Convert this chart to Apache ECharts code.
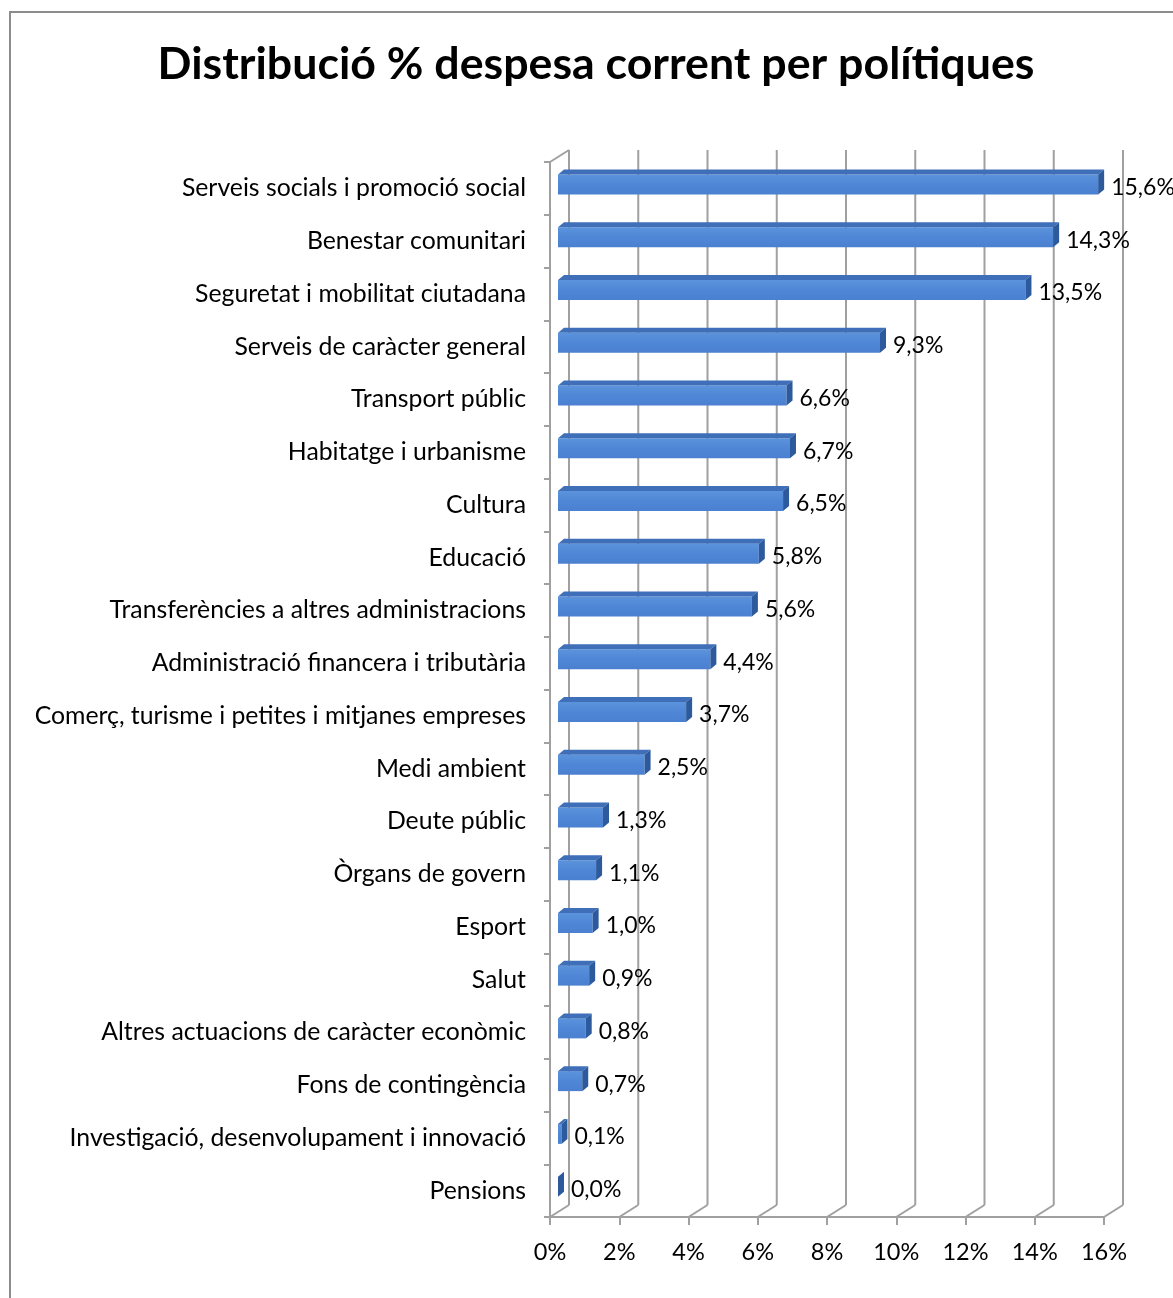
<!DOCTYPE html>
<html>
<head>
<meta charset="utf-8">
<script src="https://cdn.jsdelivr.net/npm/echarts@6/dist/echarts.min.js"></script>
<style>
  html, body { margin: 0; padding: 0; background: #fff; overflow: hidden; }
  #chart { position: absolute; left: 0; top: 0; width: 1173px; height: 1298px; }
  #frame { position: absolute; left: 9px; top: 11px; width: 1260px; height: 1360px;
           border: 2px solid #8c8c8c; pointer-events: none; box-sizing: border-box; }
</style>
</head>
<body>
<div id="chart"></div>
<div id="frame"></div>
<script>
// Current spending share by policy area (%)
const categories = [
  'Serveis socials i promoció social',
  'Benestar comunitari',
  'Seguretat i mobilitat ciutadana',
  'Serveis de caràcter general',
  'Transport públic',
  'Habitatge i urbanisme',
  'Cultura',
  'Educació',
  'Transferències a altres administracions',
  'Administració financera i tributària',
  'Comerç, turisme i petites i mitjanes empreses',
  'Medi ambient',
  'Deute públic',
  'Òrgans de govern',
  'Esport',
  'Salut',
  'Altres actuacions de caràcter econòmic',
  'Fons de contingència',
  'Investigació, desenvolupament i innovació',
  'Pensions'
];
const shares = [15.6, 14.3, 13.5, 9.3, 6.6, 6.7, 6.5, 5.8, 5.6, 4.4, 3.7, 2.5, 1.3, 1.1, 1.0, 0.9, 0.8, 0.7, 0.1, 0.0];
const xTicks = [0, 2, 4, 6, 8, 10, 12, 14, 16];

const FONT = 'Lato, "Noto Sans", sans-serif';
const GRID_GRAY = '#a0a0a0';
// projection of the chart depth (back wall relative to the front plane)
const DEPTH = [19, -12];
// bar geometry within the depth
const BAR_SHIFT = [8, -4];
const BAR_DEPTH = [6, -5];
const BAR_H = 20;

const fmt = v => v.toFixed(1).replace('.', ',') + '%';

const chart = echarts.init(document.getElementById('chart'), null, { renderer: 'canvas' });

chart.setOption({
  animation: false,
  backgroundColor: '#ffffff',
  title: {
    text: 'Distribució % despesa corrent per polítiques',
    left: 591,
    top: 37,
    textAlign: 'center',
    textStyle: { fontFamily: FONT, fontSize: 44.7, fontWeight: 'bold', color: '#000' }
  },
  grid: { left: 550, right: 69, top: 162, bottom: 81 },
  xAxis: {
    type: 'value',
    min: 0, max: 16, interval: 2,
    axisLine: { show: true, lineStyle: { color: GRID_GRAY, width: 2 } },
    axisTick: { show: true, inside: false, length: 8, lineStyle: { color: GRID_GRAY, width: 2 } },
    axisLabel: { formatter: '{value}%', margin: 23, fontFamily: FONT, fontSize: 23.5, color: '#000' },
    splitLine: { show: false }
  },
  yAxis: {
    type: 'category',
    data: categories,
    inverse: true,
    axisLine: { show: true, lineStyle: { color: GRID_GRAY, width: 2 } },
    axisTick: { show: true, length: 6, lineStyle: { color: GRID_GRAY, width: 2 } },
    axisLabel: { margin: 24, fontFamily: FONT, fontSize: 24.8, color: '#000', padding: [4, 0, 0, 0] }
  },
  series: [
    {
      // back wall gridlines and floor depth lines
      type: 'custom',
      silent: true,
      z: 1,
      data: xTicks,
      renderItem: function (params, api) {
        const v = api.value(0);
        const band = api.size([0, 1])[1];
        const bottom = api.coord([v, categories.length - 1]);
        const top = api.coord([v, 0]);
        const floorY = bottom[1] + band / 2;
        const topY = top[1] - band / 2;
        const x = bottom[0];
        const style = { stroke: GRID_GRAY, lineWidth: 2 };
        const children = [
          { type: 'line', shape: { x1: x, y1: floorY, x2: x + DEPTH[0], y2: floorY + DEPTH[1] }, style: style },
          { type: 'line', shape: { x1: x + DEPTH[0], y1: floorY + DEPTH[1], x2: x + DEPTH[0], y2: topY + DEPTH[1] }, style: style }
        ];
        if (v === 0) {
          children.push({ type: 'line', shape: { x1: x, y1: topY, x2: x + DEPTH[0], y2: topY + DEPTH[1] }, style: style });
        }
        return { type: 'group', children: children };
      }
    },
    {
      // 3D bars with value labels
      type: 'custom',
      z: 3,
      data: shares.map((v, i) => [v, i]),
      encode: { x: 0, y: 1 },
      renderItem: function (params, api) {
        const v = api.value(0);
        const i = api.value(1);
        const p0 = api.coord([0, i]);
        const p1 = api.coord([v, i]);
        const x0 = p0[0] + BAR_SHIFT[0];
        const x1 = p1[0] + BAR_SHIFT[0];
        const yc = p0[1] + BAR_SHIFT[1];
        const yt = yc - BAR_H / 2;
        const yb = yc + BAR_H / 2;
        const dx = BAR_DEPTH[0], dy = BAR_DEPTH[1];
        return {
          type: 'group',
          children: [
            { type: 'rect', shape: { x: x0, y: yt, width: x1 - x0, height: BAR_H },
              style: { fill: new echarts.graphic.LinearGradient(0, 0, 0, 1, [
                { offset: 0, color: '#5b93dc' }, { offset: 0.5, color: '#4f87d6' }, { offset: 1, color: '#4a80cf' }]) } },
            { type: 'polygon', shape: { points: [[x0, yt], [x1, yt], [x1 + dx, yt + dy], [x0 + dx, yt + dy]] },
              style: { fill: '#3e6fb8' } },
            { type: 'polygon', shape: { points: [[x1, yt], [x1 + dx, yt + dy], [x1 + dx, yb + dy], [x1, yb]] },
              style: { fill: '#2c5a9c' } },
            { type: 'text', x: x1 + dx + 7, y: yc + 3,
              style: { text: fmt(v), fontFamily: FONT, fontSize: 23, fill: '#000',
                       textAlign: 'left', textVerticalAlign: 'middle' } }
          ]
        };
      }
    }
  ]
});
</script>
</body>
</html>
